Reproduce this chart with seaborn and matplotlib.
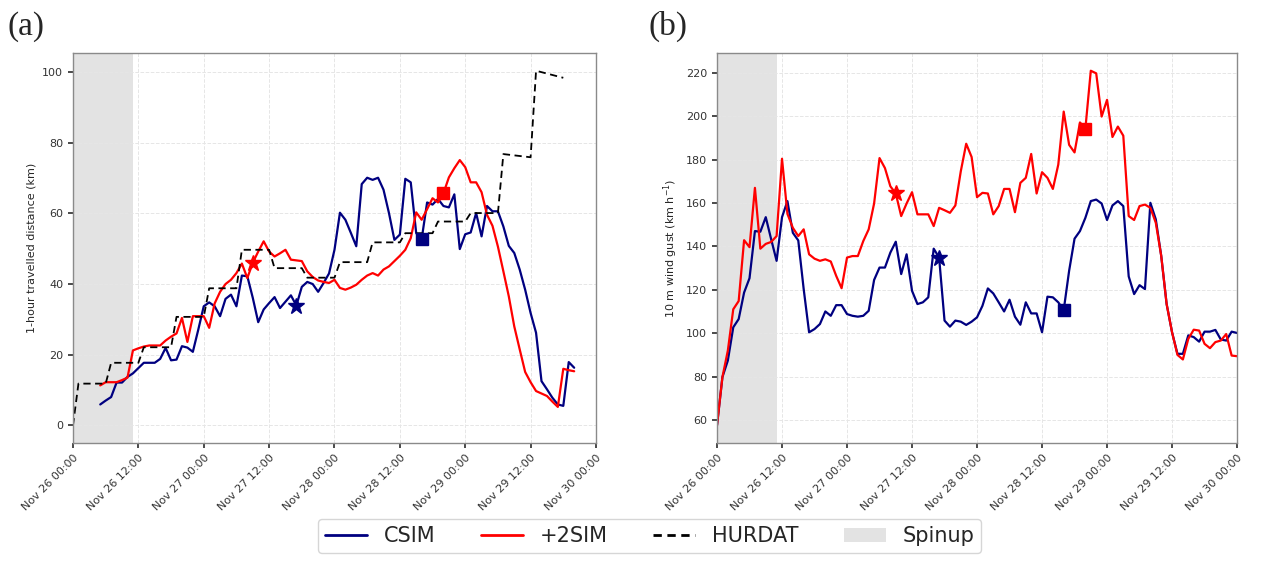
import numpy as np
import pandas as pd
import matplotlib
matplotlib.use("Agg")
import matplotlib.pyplot as plt
import matplotlib.dates as mdates
from matplotlib.lines import Line2D
from matplotlib.patches import Patch
import seaborn as sns

# ---------------------------------------------------------------------------
# Data (hourly, hours counted from Nov 26 00:00 UTC)
# ---------------------------------------------------------------------------
start = pd.Timestamp("2023-11-26 00:00")
spinup_hours = 11

# (a) 1-hour travelled distance (km), hours 5..92
dist_hours = list(range(5, 93))
dist_csim = [5.9, 7.0, 8.0, 12.1, 12.1, 13.7, 14.7, 16.2, 17.7, 17.7,
             17.7, 18.8, 21.9, 18.4, 18.6, 22.4, 22.0, 20.8, 27.1, 33.7,
             34.8, 33.7, 30.9, 35.8, 37.0, 33.7, 42.4, 42.2, 36.1, 29.2,
             32.8, 34.6, 36.3, 33.2, 35.0, 36.8, 33.9, 39.2, 40.6, 40.0,
             37.8, 40.3, 43.0, 49.7, 60.2, 58.2, 54.5, 50.7, 68.3, 70.1,
             69.5, 70.1, 66.7, 60.1, 52.5, 54.0, 69.8, 68.8, 54.4, 52.7,
             63.1, 62.5, 64.1, 62.1, 61.7, 65.4, 49.9, 54.1, 54.6, 60.1,
             53.5, 62.1, 60.6, 60.6, 56.3, 50.8, 48.8, 44.1, 38.4, 31.8,
             26.2, 12.5, 10.2, 7.8, 5.9, 5.5, 17.9, 16.3]
dist_2sim = [11.3, 12.2, 12.2, 12.2, 12.8, 13.5, 21.2, 21.8, 22.3, 22.6,
             22.6, 22.6, 24.0, 25.1, 26.0, 30.4, 23.6, 30.9, 30.9, 30.9,
             27.6, 34.5, 37.8, 40.0, 41.2, 43.1, 45.8, 41.7, 46.0, 49.2,
             52.1, 49.2, 47.8, 48.7, 49.7, 46.9, 46.7, 46.5, 43.6, 42.0,
             41.0, 40.6, 40.3, 41.2, 38.9, 38.4, 39.0, 39.8, 41.2, 42.4,
             43.1, 42.4, 44.1, 45.0, 46.5, 48.0, 49.7, 53.0, 60.3, 58.2,
             61.2, 64.3, 63.1, 65.7, 70.2, 72.8, 75.1, 73.1, 68.8, 68.8,
             66.0, 59.6, 56.5, 50.6, 43.6, 36.5, 28.0, 21.5, 15.1, 12.2,
             9.7, 9.0, 8.3, 6.7, 5.2, 16.0, 15.6, 15.3]

# Best-track (HURDAT) distance, vertices of the 6-hourly steps
hurdat_hours = [0, 1, 6, 7, 12, 13, 18, 19, 24, 25, 30, 31, 36, 37, 42, 43,
                48, 49, 54, 55, 60, 61, 66, 67, 72, 73, 78, 79, 84, 85, 90]
hurdat_km = [0, 11.8, 11.8, 17.7, 17.7, 22.1, 22.1, 30.7, 30.7, 38.8, 38.8,
             49.7, 49.7, 44.5, 44.5, 41.8, 41.8, 46.2, 46.2, 51.8, 51.8,
             54.4, 54.4, 57.7, 57.7, 60.1, 60.1, 76.8, 75.9, 100.4, 98.4]

# (b) 10 m wind gust (km/h), hours 0..96
gust_hours = list(range(0, 97))
gust_csim = [57.7, 79.9, 87.5, 102.8, 106.6, 118.8, 125.4, 147.1, 146.8, 153.5,
             143.3, 133.4, 153.5, 160.9, 146.3, 142.8, 120.4, 100.5, 102.0, 104.3,
             110.1, 108.1, 113.0, 113.0, 108.9, 108.1, 107.7, 108.1, 110.4, 124.6,
             130.3, 130.3, 137.2, 142.2, 127.3, 136.4, 119.6, 113.5, 114.3, 116.6,
             139.0, 134.9, 105.9, 103.1, 105.9, 105.4, 103.9, 105.4, 107.4, 112.7,
             120.7, 118.4, 114.3, 110.1, 115.5, 107.7, 104.0, 114.3, 109.2, 109.2,
             100.5, 116.9, 116.6, 114.3, 110.7, 128.8, 143.6, 147.1, 153.2, 160.9,
             161.6, 159.8, 152.2, 158.9, 160.9, 158.6, 126.2, 118.1, 122.2, 120.4,
             160.1, 152.5, 135.7, 113.5, 100.5, 90.6, 90.6, 99.1, 98.3, 96.2,
             100.8, 100.8, 101.6, 97.2, 96.7, 100.8, 100.2]
gust_2sim = [57.7, 79.9, 92.1, 111.1, 114.9, 142.9, 139.7, 167.0, 139.0, 141.2,
             142.1, 144.8, 180.4, 155.0, 148.6, 144.8, 147.9, 136.4, 134.4, 133.4,
             134.1, 133.1, 126.5, 120.8, 134.9, 135.6, 135.6, 142.5, 147.9, 159.8,
             180.7, 176.1, 167.7, 164.4, 154.0, 159.8, 165.0, 154.8, 154.8, 154.8,
             149.4, 157.8, 156.7, 155.5, 158.9, 174.6, 187.3, 181.2, 162.7, 164.7,
             164.4, 154.8, 158.6, 166.5, 166.5, 155.8, 169.3, 171.6, 182.6, 164.4,
             174.2, 171.6, 166.5, 177.7, 202.1, 186.8, 183.3, 197.1, 194.2, 220.9,
             219.7, 199.8, 207.5, 190.4, 195.2, 191.0, 154.0, 152.2, 158.6, 159.3,
             157.8, 150.9, 135.7, 113.5, 100.5, 90.1, 88.0, 97.5, 101.7, 101.3,
             95.2, 93.2, 96.0, 96.7, 99.7, 89.8, 89.5]

# Event hours marked on each run (star and square)
star_hour = {"CSIM": 41, "+2SIM": 33}
square_hour = {"CSIM": 64, "+2SIM": 68}

colors = {"CSIM": "#000080", "+2SIM": "#ff0000"}


def to_time(hours):
    return start + pd.to_timedelta(np.asarray(hours), unit="h")


# ---------------------------------------------------------------------------
# Style
# ---------------------------------------------------------------------------
sns.set_theme(style="whitegrid")
plt.rcParams.update({
    "font.family": ["DejaVu Sans"],
    "axes.edgecolor": "#8a8a8a",
    "axes.linewidth": 1.0,
    "grid.color": "#e6e6e6",
    "grid.linestyle": "--",
    "grid.linewidth": 0.7,
    "xtick.bottom": True,
    "ytick.left": True,
    "xtick.color": "#333333",
    "ytick.color": "#333333",
    "xtick.major.size": 3.5,
    "ytick.major.size": 3.5,
    "xtick.labelsize": 8,
    "ytick.labelsize": 8,
    "axes.labelsize": 8,
})

fig = plt.figure(figsize=(12.74, 5.61), dpi=100)
ax_a = fig.add_axes([0.0573, 0.2103, 0.4105, 0.6952])
ax_b = fig.add_axes([0.5628, 0.2103, 0.4082, 0.6952])


def draw_panel(ax, hours, series, with_hurdat):
    ax.axvspan(to_time(0)[()] if False else start,
               start + pd.Timedelta(hours=spinup_hours),
               color="#e3e3e3", lw=0, zorder=0)
    for name, vals in series.items():
        t = to_time(hours)
        sns.lineplot(x=t, y=vals, ax=ax, color=colors[name], lw=1.6,
                     zorder=3, legend=False)
        lookup = dict(zip(hours, vals))
        h_s, h_q = star_hour[name], square_hour[name]
        ax.plot(start + pd.Timedelta(hours=h_s), lookup[h_s], marker="*",
                ms=12, color=colors[name], zorder=5, ls="none")
        ax.plot(start + pd.Timedelta(hours=h_q), lookup[h_q], marker="s",
                ms=8, color=colors[name], zorder=5, ls="none")
    if with_hurdat:
        sns.lineplot(x=to_time(hurdat_hours), y=hurdat_km, ax=ax,
                     color="black", lw=1.3, zorder=4, legend=False)
        ax.lines[-1].set_linestyle((0, (4, 2.5)))
    ax.set_xlim(start, start + pd.Timedelta(hours=96))
    ax.xaxis.set_major_locator(mdates.HourLocator(byhour=[0, 12]))
    ax.xaxis.set_major_formatter(mdates.DateFormatter("%b %d %H:%M"))
    for lab in ax.get_xticklabels():
        lab.set_rotation(45)
        lab.set_ha("right")
        lab.set_rotation_mode("anchor")
    ax.set_xlabel("")
    for s in ax.spines.values():
        s.set_zorder(6)


draw_panel(ax_a, dist_hours, {"CSIM": dist_csim, "+2SIM": dist_2sim}, True)
draw_panel(ax_b, gust_hours, {"CSIM": gust_csim, "+2SIM": gust_2sim}, False)

ax_a.set_ylabel("1-hour travelled distance (km)")
ax_b.set_ylabel("10 m wind gust (km h$^{-1}$)")
ax_a.set_yticks([0, 20, 40, 60, 80, 100])
ax_b.set_yticks(np.arange(60, 221, 20))

fig.text(0.006, 0.98, "(a)", family="Liberation Serif", fontsize=24,
         va="top", ha="left")
fig.text(0.509, 0.98, "(b)", family="Liberation Serif", fontsize=24,
         va="top", ha="left")

handles = [Line2D([], [], color=colors["CSIM"], lw=2),
           Line2D([], [], color=colors["+2SIM"], lw=2),
           Line2D([], [], color="black", lw=2, ls=(0, (3, 2))),
           Patch(facecolor="#e3e3e3", edgecolor="none")]
fig.legend(handles, ["CSIM", "+2SIM", "HURDAT", "Spinup"], ncol=4,
           loc="lower center", bbox_to_anchor=(0.51, -0.005), fontsize=15,
           frameon=True, columnspacing=2.2, handletextpad=0.8,
           borderpad=0.35, edgecolor="#cccccc")

fig.savefig("out.png", dpi=100)
